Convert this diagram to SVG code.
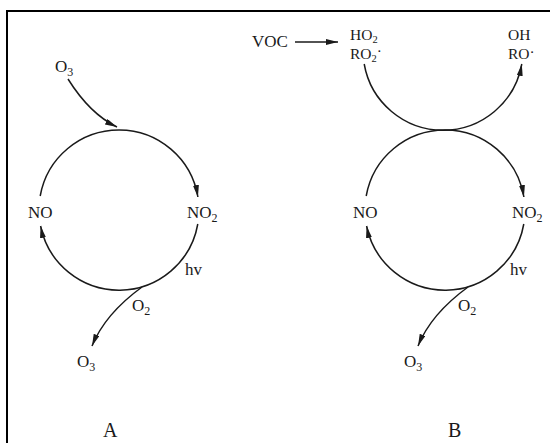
<svg xmlns="http://www.w3.org/2000/svg" width="550" height="443" viewBox="0 0 550 443">
<style>
.t{font-family:"Liberation Serif","Times New Roman",serif;font-size:17px;fill:#1a1a1a}
.r{font-family:"Liberation Serif","Times New Roman",serif;font-size:15.5px;fill:#1a1a1a}
.s{font-size:12px}
.ss{font-size:10.5px}
.lbl{font-family:"Liberation Serif","Times New Roman",serif;font-size:20px;fill:#1a1a1a}
.c{fill:none;stroke:#1a1a1a;stroke-width:1.5}
</style>
<defs>
<marker id="ah" markerUnits="userSpaceOnUse" markerWidth="13" markerHeight="8" refX="12" refY="3" orient="auto">
<path d="M0,0 L12,3 L0,6 Z" fill="#1a1a1a"/>
</marker>
</defs>
<rect width="550" height="443" fill="#fff"/>
<path d="M7,443 V11 H550" fill="none" stroke="#000" stroke-width="2"/>
<g id="connectors">
<path class="c" d="M68,79 Q90,114 117,127" marker-end="url(#ah)"/>
<path class="c" d="M40.2,196 A80,80 0 0 1 197.9,197" marker-end="url(#ah)"/>
<path class="c" d="M197.8,224 A80,80 0 0 1 40.6,226" marker-end="url(#ah)"/>
<path class="c" d="M142,287 Q105,314 92,346" marker-end="url(#ah)"/>
<path class="c" d="M295,42 H338" marker-end="url(#ah)"/>
<path class="c" d="M364.2,64 A80,80 0 0 0 521.8,64" marker-end="url(#ah)"/>
<path class="c" d="M366.2,196 A80,80 0 0 1 523.9,197" marker-end="url(#ah)"/>
<path class="c" d="M523.8,224 A80,80 0 0 1 366.6,226" marker-end="url(#ah)"/>
<path class="c" d="M468,287 Q431,314 418,346" marker-end="url(#ah)"/>
</g>
<g id="A-O3-in"><text class="t" x="55" y="72">O<tspan class="s" dy="4">3</tspan></text></g>
<g id="A-NO"><text class="t" x="28" y="218">NO</text></g>
<g id="A-NO2"><text class="t" x="187" y="218">NO<tspan class="s" dy="4">2</tspan></text></g>
<g id="A-hv"><text class="t" x="185" y="275">hv</text></g>
<g id="A-O2"><text class="t" x="132" y="311">O<tspan class="s" dy="4">2</tspan></text></g>
<g id="A-O3-out"><text class="t" x="77" y="367">O<tspan class="s" dy="4">3</tspan></text></g>
<g id="label-A"><text class="lbl" x="103" y="437">A</text></g>
<g id="B-VOC"><text class="t" x="252" y="47">VOC</text></g>
<g id="B-HO2"><text class="r" x="350" y="40">HO<tspan class="ss" dy="3">2</tspan></text><text class="r" x="350" y="59">RO<tspan class="ss" dy="3">2</tspan><tspan dy="-6">·</tspan></text></g>
<g id="B-OH"><text class="r" x="508" y="40">OH</text><text class="r" x="508" y="59">RO<tspan dy="-2">·</tspan></text></g>
<g id="B-NO"><text class="t" x="353" y="218">NO</text></g>
<g id="B-NO2"><text class="t" x="512" y="218">NO<tspan class="s" dy="4">2</tspan></text></g>
<g id="B-hv"><text class="t" x="510" y="275">hv</text></g>
<g id="B-O2"><text class="t" x="458" y="311">O<tspan class="s" dy="4">2</tspan></text></g>
<g id="B-O3-out"><text class="t" x="404" y="367">O<tspan class="s" dy="4">3</tspan></text></g>
<g id="label-B"><text class="lbl" x="448" y="437">B</text></g>
</svg>
